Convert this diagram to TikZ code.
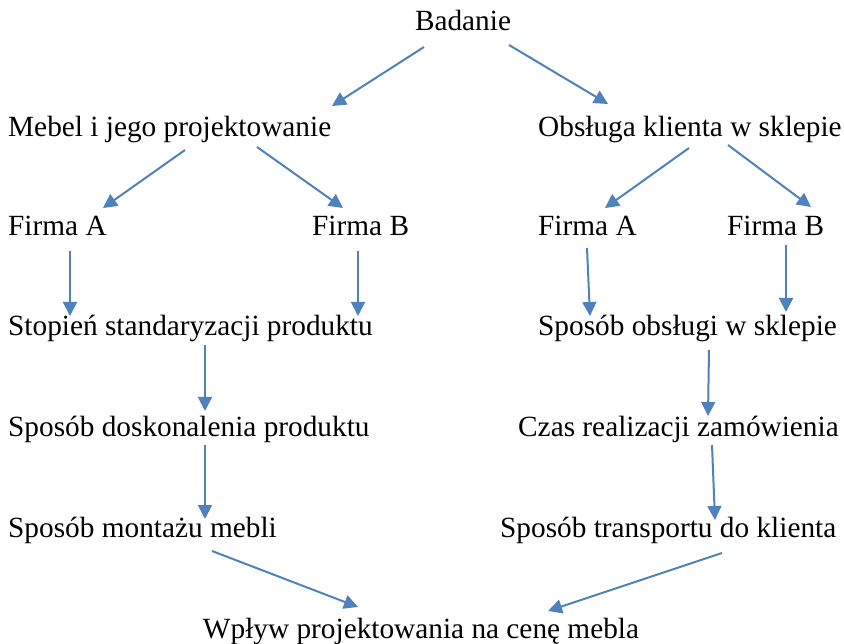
\documentclass[tikz,border=0pt]{standalone}
\usepackage{fontspec}
\setmainfont{Liberation Serif}
\usetikzlibrary{arrows.meta}
\definecolor{arrblue}{HTML}{4F81BD}
\tikzset{
  lbl/.style={inner sep=0pt, anchor=base west, font=\fontsize{29.3}{32}\selectfont},
  lblc/.style={inner sep=0pt, anchor=base, font=\fontsize{29.3}{32}\selectfont},
  arr/.style={draw=arrblue, line width=2pt, -{Triangle[length=14pt,width=14pt]}, fill=arrblue}
}
\begin{document}
\begin{tikzpicture}[x=1pt,y=-1pt]
\useasboundingbox (0,0) rectangle (844,644);
% text nodes
\node[lblc] (bad) at (463,31) {Badanie};
\node[lbl] (meb) at (8,137) {Mebel i jego projektowanie};
\node[lbl] (obs) at (538,137) {Obsługa klienta w sklepie};
\node[lbl] (fal) at (8,236) {Firma A};
\node[lbl] (fbl) at (312,236) {Firma B};
\node[lbl] (far) at (538,236) {Firma A};
\node[lbl] (fbr) at (727,236) {Firma B};
\node[lbl] (sto) at (8,336) {Stopień standaryzacji produktu};
\node[lbl] (sob) at (538,336) {Sposób obsługi w sklepie};
\node[lbl] (dos) at (8,437) {Sposób doskonalenia produktu};
\node[lbl] (cza) at (518,437) {Czas realizacji zamówienia};
\node[lbl] (mon) at (8,537) {Sposób montażu mebli};
\node[lbl] (tra) at (500,537) {Sposób transportu do klienta};
\node[lblc] (wpl) at (421,638) {Wpływ projektowania na cenę mebla};
% connector end points
\coordinate (bad1) at (424,47);  \coordinate (meb0) at (332,106);
\coordinate (bad2) at (509,45);  \coordinate (obs0) at (608,104);
\coordinate (meb1) at (185,150); \coordinate (fal0) at (103,208);
\coordinate (meb2) at (257,147); \coordinate (fbl0) at (343,208);
\coordinate (obs1) at (689,148); \coordinate (far0) at (605,208);
\coordinate (obs2) at (728,145); \coordinate (fbr0) at (811,207);
\coordinate (fal1) at (70,251);  \coordinate (sto0) at (70,316);
\coordinate (fbl1) at (358,251); \coordinate (sto1) at (358,316);
\coordinate (far1) at (587,248); \coordinate (sob0) at (590,316);
\coordinate (fbr1) at (786,245); \coordinate (sob1) at (786,312);
\coordinate (sto2) at (205,345); \coordinate (dos0) at (205,411);
\coordinate (sob2) at (709,350); \coordinate (cza0) at (708,416);
\coordinate (dos1) at (205,445); \coordinate (mon0) at (205,519);
\coordinate (cza1) at (712,445); \coordinate (tra0) at (715,520);
\coordinate (mon1) at (212,551); \coordinate (wpl0) at (358,607);
\coordinate (tra1) at (722,553); \coordinate (wpl1) at (548,611);
% connectors
\draw[arr] (bad1) -- (meb0);
\draw[arr] (bad2) -- (obs0);
\draw[arr] (meb1) -- (fal0);
\draw[arr] (meb2) -- (fbl0);
\draw[arr] (obs1) -- (far0);
\draw[arr] (obs2) -- (fbr0);
\draw[arr] (fal1) -- (sto0);
\draw[arr] (fbl1) -- (sto1);
\draw[arr] (far1) -- (sob0);
\draw[arr] (fbr1) -- (sob1);
\draw[arr] (sto2) -- (dos0);
\draw[arr] (sob2) -- (cza0);
\draw[arr] (dos1) -- (mon0);
\draw[arr] (cza1) -- (tra0);
\draw[arr] (mon1) -- (wpl0);
\draw[arr] (tra1) -- (wpl1);
\end{tikzpicture}
\end{document}
